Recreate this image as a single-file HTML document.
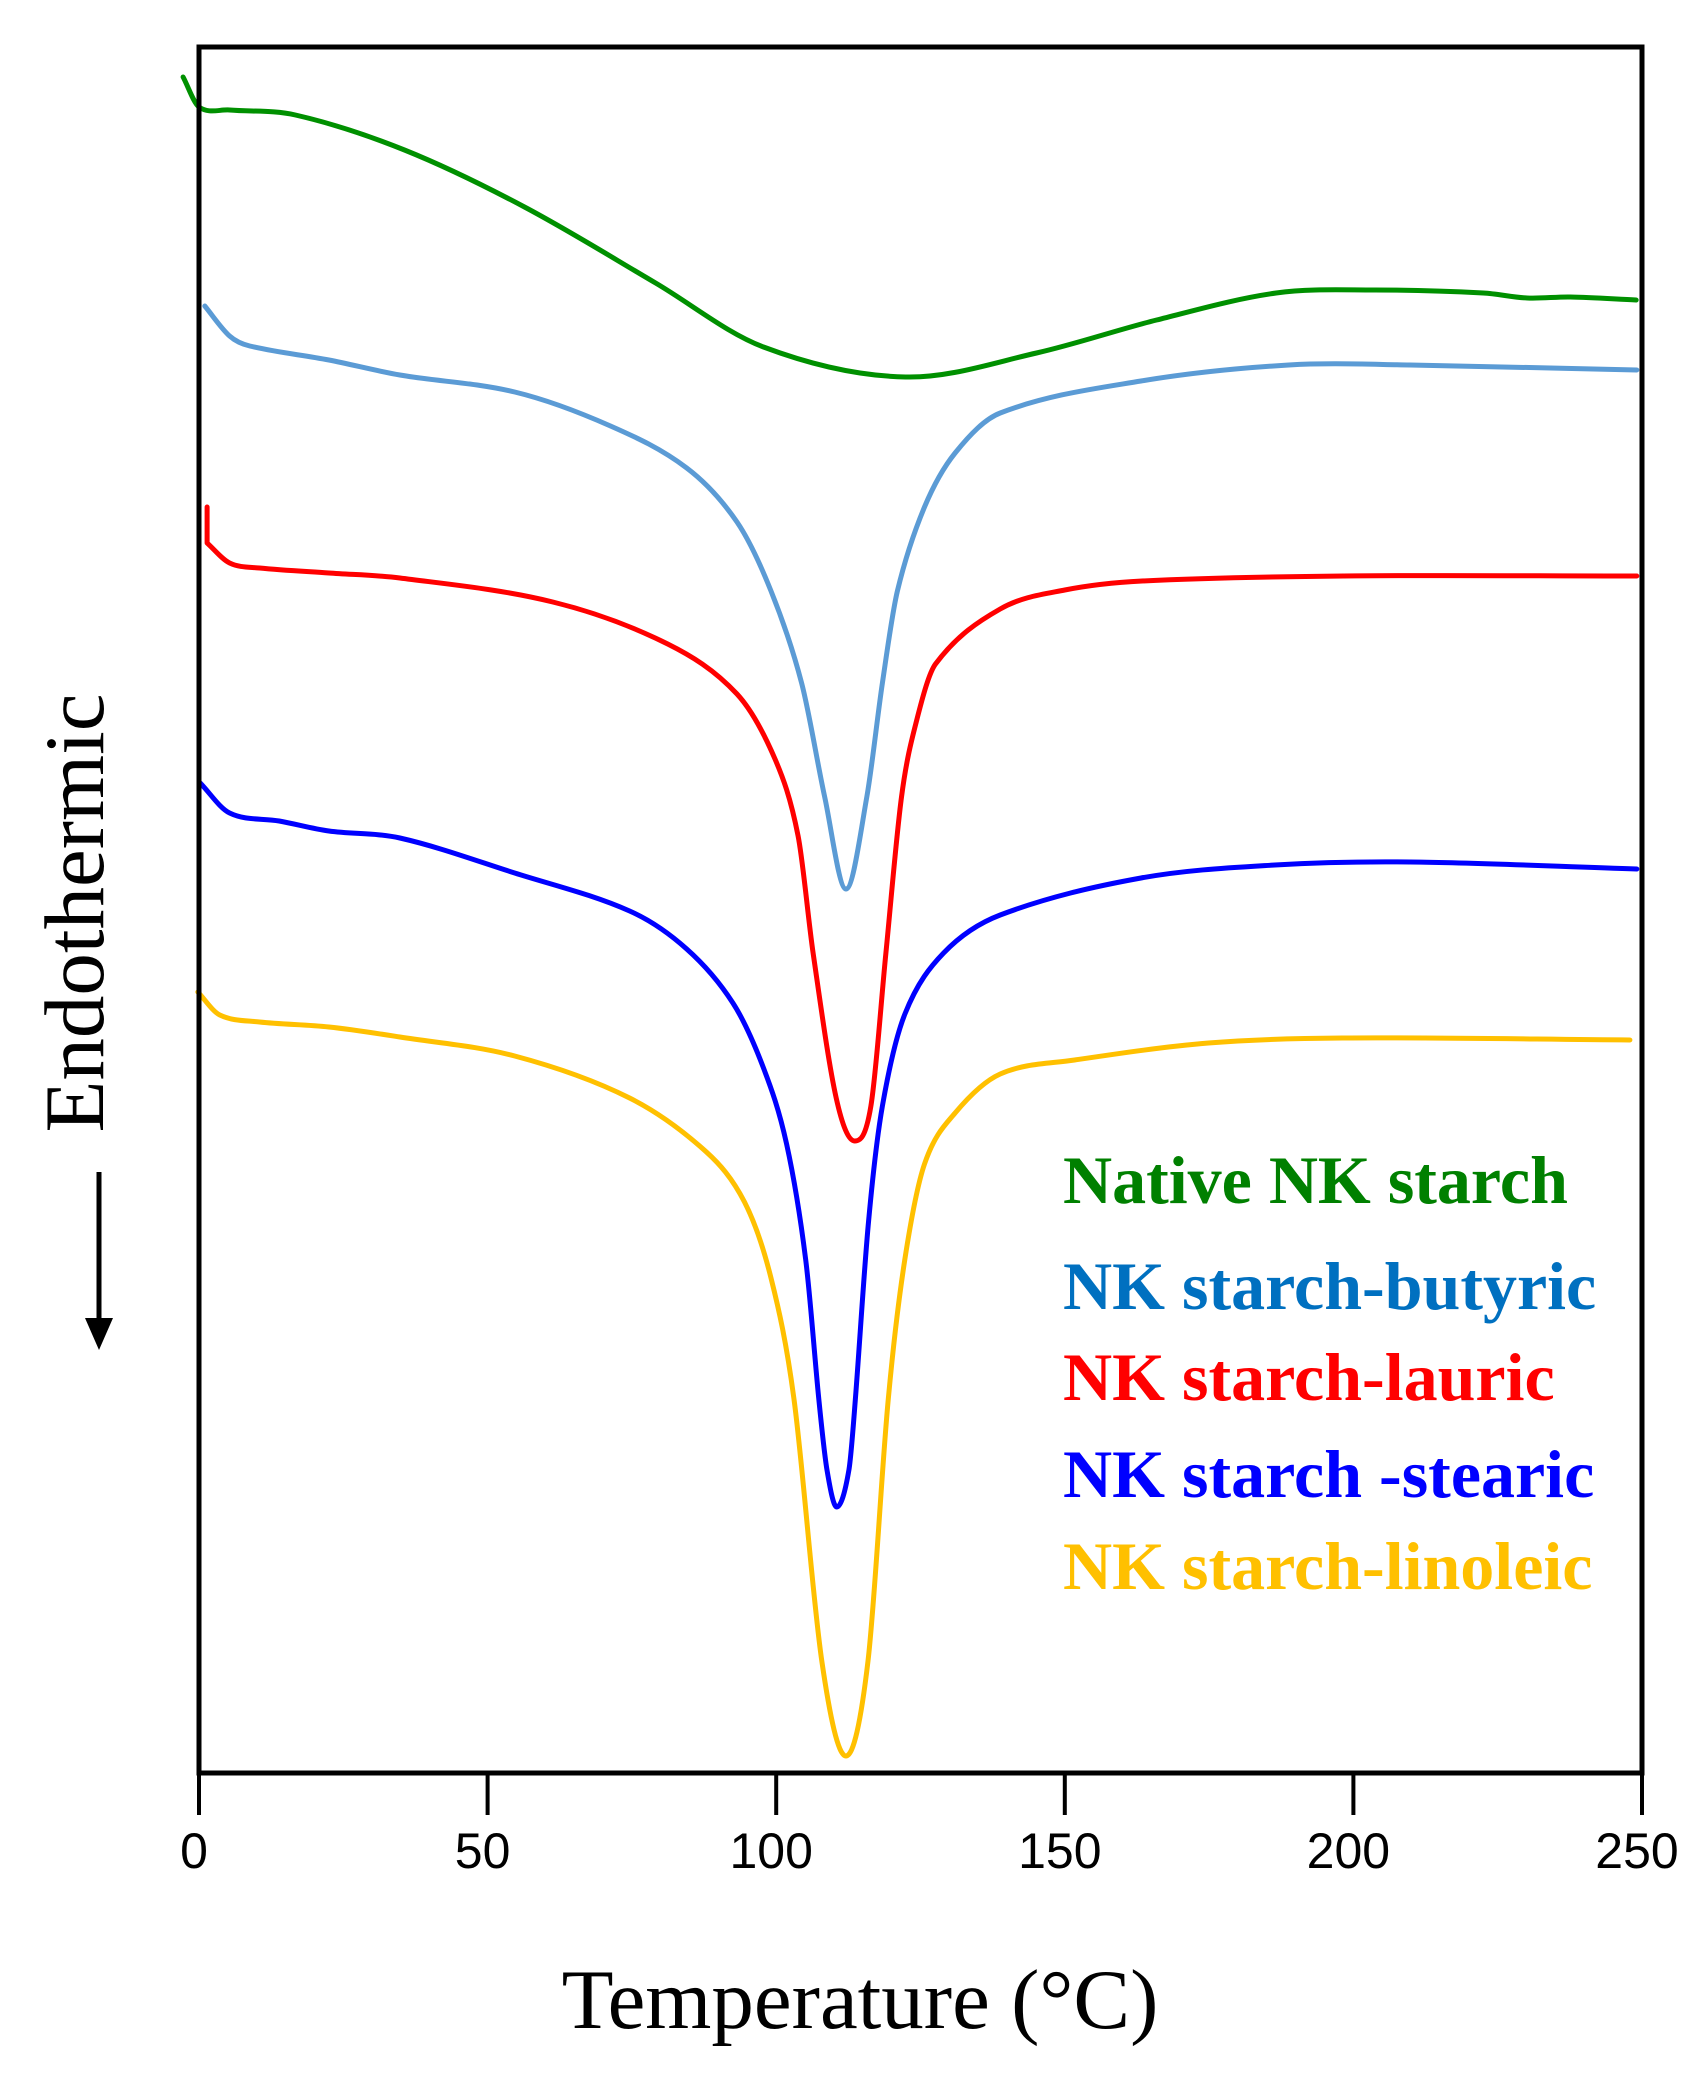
<!DOCTYPE html>
<html><head><meta charset="utf-8"><style>
html,body{margin:0;padding:0;background:#fff}
svg{display:block}
</style></head><body>
<svg id="chart" width="1702" height="2096" viewBox="0 0 1702 2096" xmlns="http://www.w3.org/2000/svg">
<rect x="0" y="0" width="1702" height="2096" fill="#fff"/>
<g id="series"></g>
<rect x="199" y="47" width="1443" height="1726" fill="none" stroke="#000" stroke-width="5"/>
<g id="ticks"></g>
<text x="860" y="2028" text-anchor="middle" font-family="Liberation Serif, serif" font-size="85">Temperature (°C)</text>
<text transform="translate(103,913) rotate(-90)" text-anchor="middle" font-family="Liberation Serif, serif" font-size="85">Endothermic</text>
<g>
<line x1="99" y1="1172" x2="99" y2="1322" stroke="#000" stroke-width="5"/>
<polygon points="85,1318 113,1318 99,1350" fill="#000"/>
</g>
<g font-family="Liberation Serif, serif" font-weight="bold" font-size="68">
<text x="1063" y="1203" fill="#008000">Native NK starch</text>
<text x="1063" y="1309" fill="#0070c0">NK starch-butyric</text>
<text x="1063" y="1400" fill="#ff0000">NK starch-lauric</text>
<text x="1063" y="1497" fill="#0000ff">NK starch -stearic</text>
<text x="1063" y="1589" fill="#ffc000">NK starch-linoleic</text>
</g>
</svg>
<script>
const xTicks = [0, 50, 100, 150, 200, 250];
const xTickLabels = ["0", "50", "100", "150", "200", "250"];

const greenT = [-2.75, 0, 5.3, 16.7, 35.6, 56.4, 79.1, 97.8, 122.4, 145.1, 165.9, 186.6, 203.6, 222.5, 230.1, 237.6, 249.0];
const greenV = [169.6, 166.6, 166.3, 165.8, 162.3, 156.6, 149.0, 142.6, 139.6, 142.0, 145.3, 148.0, 148.3, 148.0, 147.5, 147.6, 147.3];

const butyricT = [1.0, 5.3, 8.8, 22.5, 34.8, 54.7, 71.3, 84.5, 93.2, 99.1, 104.4, 108.4, 112.1, 115.7, 118.4, 121.0, 125.7, 131.0, 138.8, 163.2, 188.8, 209.8, 249.1];
const butyricV = [146.7, 143.7, 142.7, 141.3, 139.8, 138.1, 134.7, 130.5, 125.1, 118.2, 109.0, 97.6, 88.4, 97.6, 109.0, 118.2, 126.6, 132.0, 136.0, 139.2, 140.8, 140.8, 140.3];

const lauricT = [1.4, 1.4, 5.3, 10.5, 22.5, 34.8, 61.3, 81.2, 93.2, 99.8, 103.8, 106.4, 110.4, 113.6, 116.4, 119.0, 121.7, 124.3, 127.6, 138.8, 150.0, 163.4, 198.3, 249.1];
const lauricV = [126.6, 123.0, 121.0, 120.5, 120.0, 119.5, 117.1, 112.9, 107.9, 101.4, 93.7, 82.0, 67.5, 63.2, 66.7, 82.0, 97.6, 105.2, 110.9, 116.4, 118.3, 119.2, 119.7, 119.7];

const stearicT = [0.2, 5.3, 13.9, 22.5, 34.8, 54.7, 74.6, 84.5, 92.5, 97.8, 101.8, 105.1, 107.4, 108.8, 110.5, 112.6, 113.7, 116.0, 118.4, 122.3, 129.0, 138.8, 163.2, 186.4, 209.8, 249.1];
const stearicV = [99.0, 96.0, 95.2, 94.2, 93.5, 90.0, 86.2, 82.4, 77.0, 70.5, 62.9, 51.4, 37.3, 30.3, 26.6, 30.3, 37.3, 55.2, 66.7, 75.9, 82.0, 85.8, 89.5, 90.8, 91.1, 90.4];

const linoleicT = [-0.2, 3.6, 10.5, 22.5, 34.8, 54.7, 74.6, 87.9, 94.5, 99.1, 103.1, 107.9, 112.1, 115.9, 119.4, 122.3, 125.7, 131.0, 138.8, 151.7, 174.9, 198.1, 247.9];
const linoleicV = [78.1, 75.8, 75.1, 74.6, 73.6, 71.7, 67.5, 62.1, 57.1, 49.5, 37.3, 11.2, 1.7, 11.2, 37.3, 51.4, 60.9, 66.0, 69.9, 71.3, 73.0, 73.5, 73.3];

const X0 = 199, X1 = 1642, Y0 = 1773;
function xScale(t) { return X0 + (X1 - X0) * t / 250; }
function yScale(v) { return Y0 - v * 10; }

function smoothPath(P) {
  let d = 'M' + P[0][0].toFixed(1) + ',' + P[0][1].toFixed(1);
  let run = [P[0]];
  function flush(r) {
    const n = r.length;
    if (n < 2) return;
    const m = [];
    for (let i = 0; i < n; i++) {
      if (i === 0) m[i] = (r[1][1] - r[0][1]) / (r[1][0] - r[0][0]);
      else if (i === n - 1) m[i] = (r[i][1] - r[i - 1][1]) / (r[i][0] - r[i - 1][0]);
      else {
        const s0 = (r[i][1] - r[i - 1][1]) / (r[i][0] - r[i - 1][0]);
        const s1 = (r[i + 1][1] - r[i][1]) / (r[i + 1][0] - r[i][0]);
        if (s0 * s1 < 0 && Math.abs(s0) > 0.3 && Math.abs(s1) > 0.3) m[i] = 0;
        else m[i] = (r[i + 1][1] - r[i - 1][1]) / (r[i + 1][0] - r[i - 1][0]);
      }
    }
    for (let i = 0; i < n - 1; i++) {
      const h = (r[i + 1][0] - r[i][0]) / 3;
      d += ' C' + (r[i][0] + h).toFixed(1) + ',' + (r[i][1] + m[i] * h).toFixed(1) + ' ' +
        (r[i + 1][0] - h).toFixed(1) + ',' + (r[i + 1][1] - m[i + 1] * h).toFixed(1) + ' ' +
        r[i + 1][0].toFixed(1) + ',' + r[i + 1][1].toFixed(1);
    }
  }
  for (let i = 1; i < P.length; i++) {
    if (P[i][0] - P[i - 1][0] < 0.5) { flush(run); d += ' L' + P[i][0].toFixed(1) + ',' + P[i][1].toFixed(1); run = [P[i]]; }
    else run.push(P[i]);
  }
  flush(run);
  return d;
}

const NS = 'http://www.w3.org/2000/svg';
const seriesG = document.getElementById('series');
function drawSeries(T, V, color, name) {
  const pts = T.map((t, i) => [xScale(t), yScale(V[i])]);
  const p = document.createElementNS(NS, 'path');
  p.setAttribute('d', smoothPath(pts));
  p.setAttribute('fill', 'none');
  p.setAttribute('stroke', color);
  p.setAttribute('stroke-width', '5');
  p.setAttribute('stroke-linejoin', 'round');
  p.setAttribute('stroke-linecap', 'round');
  
  
  seriesG.appendChild(p);
}
drawSeries(greenT, greenV, '#009000', 'native-starch-curve');
drawSeries(butyricT, butyricV, '#5b9bd5', 'butyric-curve');
drawSeries(lauricT, lauricV, '#ff0000', 'lauric-curve');
drawSeries(stearicT, stearicV, '#0000ff', 'stearic-curve');
drawSeries(linoleicT, linoleicV, '#ffc000', 'linoleic-curve');

const tickG = document.getElementById('ticks');
xTicks.forEach((t, i) => {
  const x = xScale(t);
  const ln = document.createElementNS(NS, 'line');
  ln.setAttribute('x1', x); ln.setAttribute('x2', x);
  ln.setAttribute('y1', Y0); ln.setAttribute('y2', Y0 + 42);
  ln.setAttribute('stroke', '#000'); ln.setAttribute('stroke-width', '4');
  
  
  tickG.appendChild(ln);
  const tx = document.createElementNS(NS, 'text');
  tx.setAttribute('x', x - 5);
  tx.setAttribute('y', 1868);
  tx.setAttribute('text-anchor', 'middle');
  tx.setAttribute('font-family', 'Liberation Sans, sans-serif');
  tx.setAttribute('font-size', '50');
  tx.textContent = xTickLabels[i];
  
  
  tickG.appendChild(tx);
});
</script>
</body></html>
